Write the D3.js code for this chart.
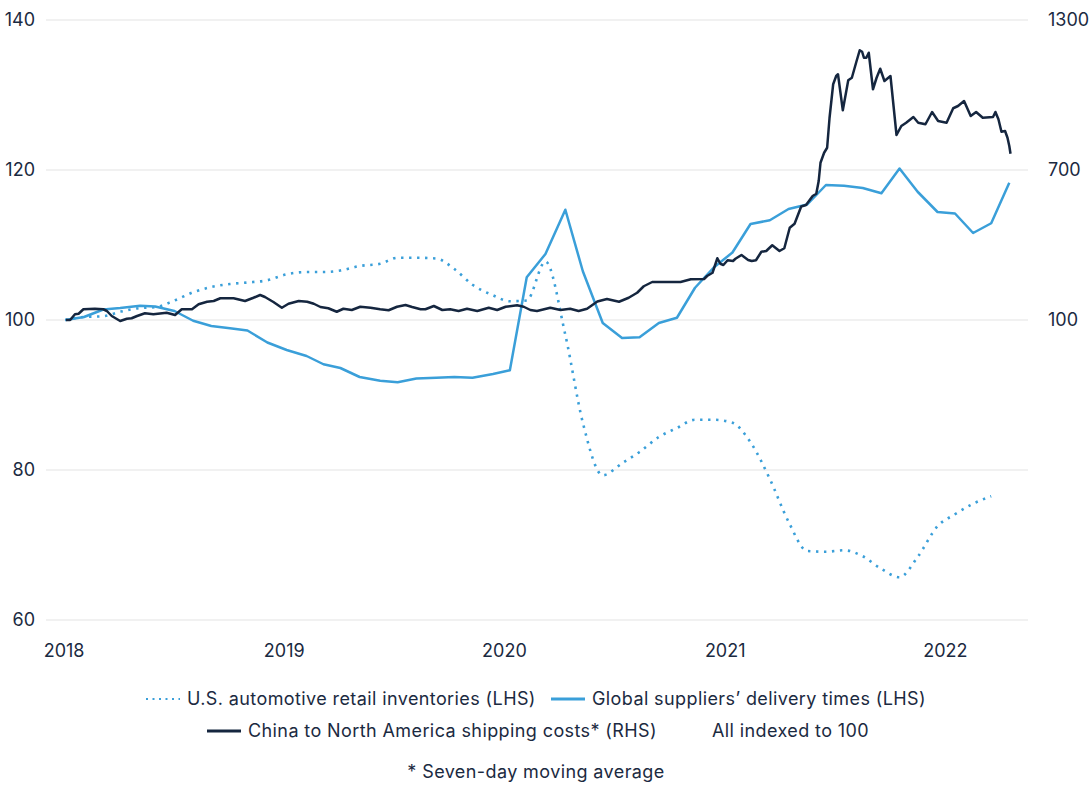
<!DOCTYPE html>
<html>
<head>
<meta charset="utf-8">
<script src="https://cdn.jsdelivr.net/npm/d3@7"></script>
<style>
  body { margin: 0; background: #fff; }
  text { font-family: Inter, "Noto Sans", sans-serif; fill: #1b2a41; }
</style>
</head>
<body>
<script>
// monthly observation dates (as plotted), shared by the two LHS series
var monthDates = [
  "2018-01-03","2018-02-03","2018-03-07","2018-04-04","2018-05-07","2018-06-01","2018-07-03","2018-08-03","2018-09-02","2018-10-03","2018-11-01","2018-12-04",
  "2019-01-05","2019-02-07","2019-03-07","2019-04-04","2019-05-06","2019-06-09","2019-07-08","2019-08-08","2019-09-10","2019-10-10","2019-11-09","2019-12-13",
  "2020-01-10","2020-02-07","2020-03-09","2020-04-11","2020-05-10","2020-06-12","2020-07-14","2020-08-12","2020-09-13","2020-10-13","2020-11-12","2020-12-13",
  "2021-01-13","2021-02-12","2021-03-16","2021-04-16","2021-05-17","2021-06-17","2021-07-17","2021-08-17","2021-09-17","2021-10-17","2021-11-16","2021-12-19",
  "2022-01-17","2022-02-16","2022-03-18","2022-04-17"
];

// Global suppliers' delivery times (LHS)
var supplierTimes = [
  100, 100.4, 101.4, 101.6, 101.9, 101.8, 101.2, 99.9, 99.2, 98.9, 98.6, 97.0,
  96.0, 95.2, 94.1, 93.6, 92.4, 91.9, 91.7, 92.2, 92.3, 92.4, 92.3, 92.8,
  93.3, 105.7, 108.8, 114.7, 106.5, 99.6, 97.6, 97.7, 99.6, 100.3, 104.3, 107.0,
  109.0, 112.8, 113.3, 114.8, 115.4, 118.0, 117.9, 117.6, 116.9, 120.2, 117.1, 114.4,
  114.2, 111.6, 112.9, 118.3
];

// U.S. automotive retail inventories (LHS), ends one month earlier
var autoInventories = [
  100, 100.4, 100.5, 101.1, 101.6, 101.7, 102.6, 103.7, 104.4, 104.8, 105.0, 105.3,
  106.1, 106.4, 106.4, 106.6, 107.2, 107.5, 108.3, 108.3, 108.2, 106.8, 104.7, 103.3,
  102.5, 102.6, 107.8, 98.0, 86.3, 79.3, 80.9, 82.4, 84.4, 85.6, 86.7, 86.7,
  86.3, 83.7, 78.8, 73.1, 69.2, 69.1, 69.3, 68.5, 66.8, 65.7, 68.4, 72.5,
  74.1, 75.5, 76.5
];

// China to North America shipping costs, 7-day moving average (RHS)
var shipDates = [
  "2018-01-04","2018-01-11","2018-01-19","2018-01-25","2018-02-02","2018-02-21","2018-03-07","2018-03-13","2018-03-21","2018-04-04",
  "2018-04-15","2018-04-23","2018-05-02","2018-05-15","2018-05-29","2018-06-20","2018-07-04","2018-07-15","2018-08-01","2018-08-12",
  "2018-08-26","2018-09-06","2018-09-17","2018-10-09","2018-10-28","2018-11-11","2018-11-22","2018-11-30","2018-12-14","2018-12-28",
  "2019-01-08","2019-01-25","2019-02-08","2019-02-19","2019-03-02","2019-03-15","2019-03-29","2019-04-09","2019-04-23","2019-05-07",
  "2019-05-24","2019-06-09","2019-06-23","2019-07-07","2019-07-21","2019-08-01","2019-08-15","2019-08-23","2019-09-06","2019-09-20",
  "2019-10-03","2019-10-17","2019-10-31","2019-11-17","2019-12-06","2019-12-20","2020-01-03","2020-01-22","2020-02-02","2020-02-13",
  "2020-02-24","2020-03-17","2020-04-03","2020-04-19","2020-05-03","2020-05-17","2020-06-03","2020-06-19","2020-07-09","2020-07-25",
  "2020-08-08","2020-08-19","2020-09-02","2020-09-27","2020-10-19","2020-11-05","2020-11-27","2020-12-02","2020-12-11","2020-12-19",
  "2020-12-24","2020-12-29","2021-01-05","2021-01-14","2021-01-18","2021-01-28","2021-02-08","2021-02-14","2021-02-21","2021-03-02",
  "2021-03-10","2021-03-20","2021-04-01","2021-04-09","2021-04-18","2021-04-26","2021-05-07","2021-05-15","2021-05-26","2021-06-01",
  "2021-06-05","2021-06-08","2021-06-14","2021-06-19","2021-06-23","2021-06-29","2021-07-04","2021-07-07","2021-07-15","2021-07-24",
  "2021-07-30","2021-08-06","2021-08-12","2021-08-16","2021-08-19","2021-08-23","2021-08-27","2021-09-03","2021-09-09","2021-09-15",
  "2021-09-22","2021-10-02","2021-10-12","2021-10-20","2021-10-28","2021-11-09","2021-11-17","2021-11-29","2021-12-10","2021-12-20",
  "2022-01-03","2022-01-14","2022-01-22","2022-02-01","2022-02-12","2022-02-21","2022-03-04","2022-03-21","2022-03-25","2022-03-30",
  "2022-04-04","2022-04-10","2022-04-14","2022-04-17","2022-04-19"
];
var shipCosts = [
  100, 100, 123, 125, 143, 145, 143, 136, 116, 96,
  105, 107, 116, 127, 123, 129, 120, 143, 143, 163,
  173, 176, 187, 187, 176, 189, 200, 192, 172, 149,
  165, 176, 173, 165, 152, 147, 133, 145, 140, 153,
  149, 143, 139, 153, 160, 152, 143, 143, 156, 140,
  143, 136, 145, 136, 149, 140, 153, 159, 153, 140,
  136, 149, 140, 145, 136, 145, 174, 184, 173, 189,
  209, 235, 252, 252, 252, 263, 264, 276, 289, 347,
  325, 320, 339, 336, 345, 360, 340, 336, 339, 373,
  376, 399, 376, 387, 469, 485, 554, 560, 596, 605,
  656, 729, 769, 789, 909, 1043, 1076, 1083, 939, 1059,
  1069, 1129, 1179, 1173, 1149, 1149, 1169, 1023, 1069, 1105,
  1056, 1076, 840, 876, 889, 912, 889, 883, 932, 896,
  889, 947, 956, 976, 916, 932, 909, 912, 932, 903,
  853, 856, 829, 796, 765
];

var leftTicks = [60, 80, 100, 120, 140];
var rightTicks = [100, 700, 1300];
var yearTicks = ["2018", "2019", "2020", "2021", "2022"];

var colors = { inv: "#3a9fd9", sup: "#3a9fd9", ship: "#15263f", grid: "#ececec" };

var legendRows = [
  [ {label: "U.S. automotive retail inventories (LHS)", key: "inv", x: 146},
    {label: "Global suppliers\u2019 delivery times (LHS)", key: "sup", x: 551} ],
  [ {label: "China to North America shipping costs* (RHS)", key: "ship", x: 207},
    {label: "All indexed to 100", key: null, x: 712} ]
];
var footnote = "* Seven-day moving average";

var parse = d3.timeParse("%Y-%m-%d");

var width = 1089, height = 787;
var plot = {left: 46, right: 1028, top: 20, bottom: 620};

var svg = d3.select("body").append("svg")
    .attr("width", width)
    .attr("height", height);

var x = d3.scaleTime()
    .domain([parse("2017-12-02"), parse("2022-05-18")])
    .range([plot.left, plot.right]);
var yL = d3.scaleLinear().domain([60, 140]).range([plot.bottom, plot.top]);
var yR = d3.scaleLinear().domain([-1100, 1300]).range([plot.bottom, plot.top]);

// gridlines
svg.append("g").selectAll("line")
    .data(leftTicks)
    .enter().append("line")
    .attr("x1", plot.left).attr("x2", plot.right)
    .attr("y1", d => yL(d)).attr("y2", d => yL(d))
    .attr("stroke", colors.grid)
    .attr("stroke-width", 1.5);

// left axis labels
svg.append("g").selectAll("text")
    .data(leftTicks)
    .enter().append("text")
    .attr("x", 35)
    .attr("y", d => yL(d))
    .attr("dy", "0.35em")
    .attr("text-anchor", "end")
    .style("font-size", "18px")
    .text(d => d);

// right axis labels
svg.append("g").selectAll("text")
    .data(rightTicks)
    .enter().append("text")
    .attr("x", 1048)
    .attr("y", d => yR(d))
    .attr("dy", "0.35em")
    .attr("text-anchor", "start")
    .style("font-size", "18px")
    .text(d => d);

// year labels
svg.append("g").selectAll("text")
    .data(yearTicks)
    .enter().append("text")
    .attr("x", d => x(parse(d + "-01-01")))
    .attr("y", 657)
    .attr("text-anchor", "middle")
    .style("font-size", "18px")
    .text(d => d);

var invData = autoInventories.map((v, i) => ({date: parse(monthDates[i]), value: v}));
var supData = supplierTimes.map((v, i) => ({date: parse(monthDates[i]), value: v}));
var shipData = shipCosts.map((v, i) => ({date: parse(shipDates[i]), value: v}));

var lineInv = d3.line().curve(d3.curveMonotoneX).x(d => x(d.date)).y(d => yL(d.value));
var lineSup = d3.line().x(d => x(d.date)).y(d => yL(d.value));
var lineShip = d3.line().x(d => x(d.date)).y(d => yR(d.value));

svg.append("path")
    .datum(invData)
    .attr("d", lineInv)
    .attr("fill", "none")
    .attr("stroke", colors.inv)
    .attr("stroke-width", 2.6)
    .attr("stroke-dasharray", "2.4 5.6");

svg.append("path")
    .datum(supData)
    .attr("d", lineSup)
    .attr("fill", "none")
    .attr("stroke", colors.sup)
    .attr("stroke-width", 2.5)
    .attr("stroke-linejoin", "round");

svg.append("path")
    .datum(shipData)
    .attr("d", lineShip)
    .attr("fill", "none")
    .attr("stroke", colors.ship)
    .attr("stroke-width", 2.5)
    .attr("stroke-linejoin", "round");

// legend
var rowY = [699, 731];
legendRows.forEach((row, r) => {
    row.forEach(item => {
        let g = svg.append("g").attr("transform", `translate(${item.x},${rowY[r]})`);
        let tx = 0;
        if (item.key) {
            let ln = g.append("line")
                .attr("x1", 0).attr("x2", 34)
                .attr("y1", 0).attr("y2", 0)
                .attr("stroke", colors[item.key])
                .attr("stroke-width", item.key === "inv" ? 2 : 3);
            if (item.key === "inv") ln.attr("stroke-dasharray", "2 4.5");
            tx = 41;
        }
        g.append("text")
            .attr("x", tx)
            .attr("dy", "0.35em")
            .style("font-size", "18px")
            .style("letter-spacing", "0.4px")
            .text(item.label);
    });
});

svg.append("text")
    .attr("x", 536)
    .attr("y", 772)
    .attr("dy", "0.35em")
    .attr("text-anchor", "middle")
    .style("font-size", "18px")
    .style("letter-spacing", "0.4px")
    .text(footnote);
</script>
</body>
</html>
